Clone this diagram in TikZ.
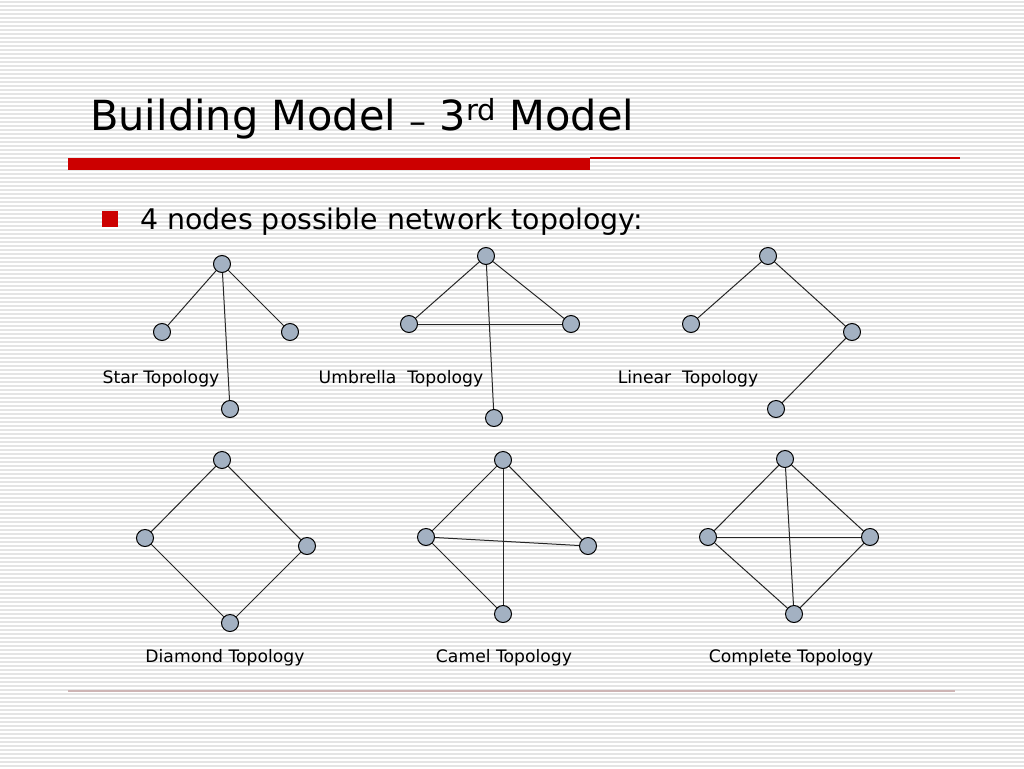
\documentclass[tikz,border=0pt]{standalone}
\usepackage{fontspec}
\setmainfont{DejaVu Sans}
\usepackage{xcolor}
\usepackage{tikz}
\usetikzlibrary{shapes}

\definecolor{slidered}{RGB}{204,0,0}
\definecolor{nodegray}{RGB}{163,177,194}
\definecolor{stripegray}{RGB}{228,228,228}
\definecolor{footline}{RGB}{205,180,180}

\tikzset{
    vtx/.style = {circle, draw = black, fill = nodegray, line width = 1pt,
        minimum size = 17pt, inner sep = 0pt},
    edge/.style = {line width = 1pt, black!85},
    toplabel/.style = {anchor = base, font = \fontsize{17.2}{19}\selectfont}
}

\begin{document}
\begin{tikzpicture}[x = 1pt, y = -1pt]
        \useasboundingbox (0, 0) rectangle (1024, 768);
        \fill[white] (0, 0) rectangle (1024, 768);
        \foreach \y in {2, 6, ..., 766}
            \draw[stripegray, line width = 1.4pt] (0, \y) -- (1024, \y);

        % title and rules
        \node[anchor = base west, inner sep = 0pt,
            font = \fontsize{41.5}{46}\selectfont] (title) at (90, 130)
            {Building Model {\fontsize{34}{38}\selectfont\raisebox{-3pt}{--}} 3\textsuperscript{rd} Model};
        \fill[slidered] (68, 158) rectangle (590, 170);
        \draw[slidered, line width = 1.5pt] (590, 158) -- (960, 158);
        \draw[footline, line width = 1.2pt] (68, 691) -- (955, 691);

        \fill[slidered] (102, 211) rectangle (118, 227);
        \node[anchor = base west, inner sep = 0pt,
            font = \fontsize{28.4}{32}\selectfont] (intro) at (140, 229)
            {4 nodes possible network topology:};

        % star
        \node[vtx] (st) at (222, 264) {};
        \node[vtx] (sl) at (162, 332) {};
        \node[vtx] (sr) at (290, 332) {};
        \node[vtx] (sb) at (230, 409) {};
        \draw[edge] (st) -- (sl);
        \draw[edge] (st) -- (sr);
        \draw[edge] (st) -- (sb);
        \node[toplabel] (starlbl) at (161, 383) {Star Topology};

        % umbrella
        \node[vtx] (ut) at (486, 256) {};
        \node[vtx] (ul) at (409, 324) {};
        \node[vtx] (ur) at (571, 324) {};
        \node[vtx] (ub) at (494, 418) {};
        \draw[edge] (ut) -- (ul);
        \draw[edge] (ut) -- (ur);
        \draw[edge] (ul) -- (ur);
        \draw[edge] (ut) -- (ub);
        \node[toplabel] (umblbl) at (401, 383) {Umbrella\ \ Topology};

        % linear
        \node[vtx] (lt) at (768, 256) {};
        \node[vtx] (ll) at (691, 324) {};
        \node[vtx] (lr) at (852, 332) {};
        \node[vtx] (lb) at (776, 409) {};
        \draw[edge] (ll) -- (lt);
        \draw[edge] (lt) -- (lr);
        \draw[edge] (lr) -- (lb);
        \node[toplabel] (linlbl) at (688, 383) {Linear\ \ Topology};

        % diamond
        \node[vtx] (dt) at (222, 460) {};
        \node[vtx] (dl) at (145, 538) {};
        \node[vtx] (dr) at (307, 546) {};
        \node[vtx] (db) at (230, 623) {};
        \draw[edge] (dt) -- (dl);
        \draw[edge] (dt) -- (dr);
        \draw[edge] (dl) -- (db);
        \draw[edge] (dr) -- (db);
        \node[toplabel] (diamlbl) at (225, 662) {Diamond Topology};

        % camel
        \node[vtx] (ct) at (503, 460) {};
        \node[vtx] (cl) at (426, 537) {};
        \node[vtx] (cr) at (588, 546) {};
        \node[vtx] (cb) at (503, 614) {};
        \draw[edge] (ct) -- (cl);
        \draw[edge] (ct) -- (cr);
        \draw[edge] (ct) -- (cb);
        \draw[edge] (cl) -- (cr);
        \draw[edge] (cl) -- (cb);
        \node[toplabel] (camlbl) at (504, 662) {Camel Topology};

        % complete
        \node[vtx] (kt) at (785, 459) {};
        \node[vtx] (kl) at (708, 537) {};
        \node[vtx] (kr) at (870, 537) {};
        \node[vtx] (kb) at (794, 614) {};
        \draw[edge] (kt) -- (kl);
        \draw[edge] (kt) -- (kr);
        \draw[edge] (kt) -- (kb);
        \draw[edge] (kl) -- (kr);
        \draw[edge] (kl) -- (kb);
        \draw[edge] (kr) -- (kb);
        \node[toplabel] (complbl) at (791, 662) {Complete Topology};
    \end{tikzpicture}
\end{document}
